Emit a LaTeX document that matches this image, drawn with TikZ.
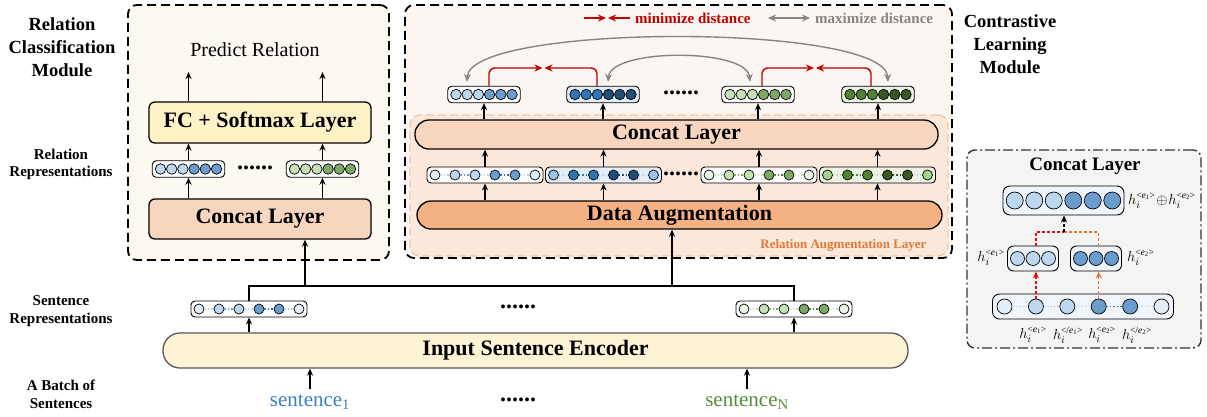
\documentclass[tikz,border=0pt]{standalone}
\usepackage{fontspec}
\setmainfont{Liberation Serif}
\usepackage{tikz}
\usetikzlibrary{calc, arrows.meta}

\definecolor{b0}{HTML}{E4EEF8}
\definecolor{b1}{HTML}{BDD7EE}
\definecolor{b2}{HTML}{9DC3E6}
\definecolor{b3}{HTML}{6A9CCE}
\definecolor{b4}{HTML}{2E75B6}
\definecolor{b5}{HTML}{1F4E79}
\definecolor{g0}{HTML}{EBF4E4}
\definecolor{g1}{HTML}{C5E0B4}
\definecolor{g2}{HTML}{A9D18E}
\definecolor{g3}{HTML}{7DA866}
\definecolor{g4}{HTML}{548235}
\definecolor{g5}{HTML}{385723}
\definecolor{clsfill}{HTML}{FDF9F1}
\definecolor{ctrfill}{HTML}{FBF6F2}
\definecolor{augfill}{HTML}{FBE8DB}
\definecolor{augline}{HTML}{F2C6A8}
\definecolor{augtext}{HTML}{E07B39}
\definecolor{fcfill}{HTML}{FFF2C6}
\definecolor{catfill}{HTML}{F8D5BF}
\definecolor{dafill}{HTML}{F4B183}
\definecolor{encfill}{HTML}{FFF3D5}
\definecolor{minred}{HTML}{C00000}
\definecolor{maxgray}{HTML}{858585}
\definecolor{sblue}{HTML}{3D7EC2}
\definecolor{sgreen}{HTML}{5A8A3A}
\definecolor{dred}{HTML}{E01010}
\definecolor{dorange}{HTML}{E0762C}
\definecolor{boxgray}{HTML}{F4F4F4}

% a row of units: [box options]{name}{centre}{spacing}{diameter}{colours}
\newcommand{\embed}[6][]{%
  \foreach \col [count=\n] in {#6} {\xdef\nunits{\n}}
  \node[vecbox, minimum width={(\nunits-1)*#4+#5+6}, minimum height={#5+6}, #1] (#2) at #3 {};
  \foreach \col [count=\i] in {#6}
    \node[unit, fill=\col, minimum size=#5] (#2-\i) at ($(#2.center)+({(\i-(\nunits+1)/2)*#4},0)$) {};
}
% dotted links inside a row of six units
\newcommand{\links}[4]{%
  \foreach \fst/\snd in {1/2,3/4,5/6} \draw[link, #2] (#1-\fst) -- (#1-\snd);
  \draw[link, #3] (#1-2) -- (#1-3);
  \draw[link, #4] (#1-4) -- (#1-5);
}
% hidden state with an entity tag
\newcommand{\htag}[2]{h_i^{\mbox{\fontsize{9.5}{10}\selectfont<#1\textit{e}\textsubscript{#2}>}}}

\begin{document}
\begin{tikzpicture}[x=1pt, y=-1pt,
    module/.style={draw=black, line width=1.8pt, dash pattern=on 9pt off 5pt, rounded corners=9pt},
    layer/.style={draw=black, line width=1.3pt, rounded corners=6pt, inner sep=2pt, font=\fontsize{22}{26}\selectfont\bfseries},
    pill/.style={layer, rounded corners=14pt},
    vecbox/.style={draw=black, line width=0.9pt, rounded corners=4pt, fill=white, inner sep=0pt},
    unit/.style={circle, draw=black, line width=0.7pt, inner sep=0pt},
    arr/.style={-{Stealth[length=7pt,width=6pt]}, line width=1.3pt},
    redarr/.style={-{Stealth[length=8pt,width=7pt]}, line width=1.4pt, draw=minred},
    grayarr/.style={line width=1.4pt, draw=maxgray},
    dasharr/.style={line width=1.4pt, dash pattern=on 3pt off 2pt},
    wire/.style={line width=1.3pt},
    link/.style={line width=1.4pt, dotted},
    lab/.style={font=\fontsize{15}{17.7}\selectfont\bfseries, align=center},
    biglab/.style={font=\fontsize{18.5}{23}\selectfont\bfseries, align=center},
    legend/.style={font=\fontsize{15}{17}\selectfont\bfseries, anchor=west, inner sep=0pt},
    dots/.style={font=\fontsize{24}{24}\selectfont\bfseries, inner sep=0pt},
    hlab/.style={font=\fontsize{15}{17}\selectfont, inner sep=0pt},
    sent/.style={font=\fontsize{21}{24}\selectfont, inner sep=2pt},
  ]
\useasboundingbox (0,0) rectangle (1207,416);

% side labels
\node[biglab] (rcmlab) at (62,47) {Relation\\Classification\\Module};
\node[lab] (rellab) at (61,164.5) {Relation\\Representations};
\node[lab] (sentlab) at (61,311) {Sentence\\Representations};
\node[lab] (batchlab) at (61,394) {A Batch of\\Sentences};
\node[biglab] (ctrlab) at (1010,44) {Contrastive\\Learning\\Module};

% relation classification module
\node[module, fill=clsfill, minimum width=261pt, minimum height=255pt] (clsbox) at (258.5,132.5) {};
\node[font=\fontsize{20}{24}\selectfont] (pred) at (255,50) {Predict Relation};
\node[layer, fill=fcfill, minimum width=222pt, minimum height=41pt] (fc) at (260,122.5) {FC + Softmax Layer};
\embed{rel1}{(188.5,169)}{11.2}{10.5}{b1,b1,b1,b3,b3,b3}
\embed{rel2}{(322.5,169)}{11.2}{10.5}{g1,g1,g1,g3,g3,g3}
\node[dots] (reldots) at (255,168) {......};
\node[layer, fill=catfill, minimum width=222pt, minimum height=40pt] (concatL) at (260,219) {Concat Layer};
\coordinate (out1) at (188.5,72);
\coordinate (out2) at (322.5,72);
\path[arr] (rel1.south |- concatL.north) edge (rel1.south)
           (rel2.south |- concatL.north) edge (rel2.south)
           (rel1.north) edge (rel1.north |- fc.south)
           (rel2.north) edge (rel2.north |- fc.south)
           (out1 |- fc.north) edge (out1)
           (out2 |- fc.north) edge (out2);

% contrastive learning module
\node[module, fill=ctrfill, minimum width=547pt, minimum height=253pt] (ctrbox) at (678.5,131.5) {};
\node[draw=augline, fill=augfill, line width=1.4pt, dash pattern=on 8pt off 4pt, rounded corners=10pt,
      minimum width=538pt, minimum height=141pt] (augbox) at (679,185.5) {};
\node[font=\fontsize{13}{15}\selectfont\bfseries, text=augtext, anchor=east] (auglab) at (930,245) {Relation Augmentation Layer};
\node[pill, fill=catfill, minimum width=523pt, minimum height=29pt] (concatM) at (676.5,134.5) {Concat Layer};
\node[pill, fill=dafill, minimum width=525pt, minimum height=28pt] (dataaug) at (679.5,215) {Data Augmentation};

\embed{aug1}{(485,175)}{20}{10}{b0,b1,b1,b3,b3,b0}
\embed[fill=b0]{aug2}{(603.5,175)}{20}{10}{b2,b4,b4,b5,b5,b2}
\embed{aug3}{(759,175)}{20}{10}{g0,g1,g1,g3,g3,g0}
\embed[fill=g0]{aug4}{(877.5,175)}{20}{10}{g2,g4,g4,g5,g5,g2}
\links{aug1}{b1}{b3}{b4}
\links{aug2}{b1}{b4}{b5}
\links{aug3}{g1}{g3}{g4}
\links{aug4}{g1}{g4}{g5}
\node[dots] (augdots) at (681,174) {......};

\embed{t1}{(484,94.5)}{11.2}{10.5}{b1,b1,b1,b3,b3,b3}
\embed[fill=b0]{t2}{(603,94.5)}{11.2}{10.5}{b4,b4,b4,b5,b5,b5}
\embed{t3}{(758,94.5)}{11.2}{10.5}{g1,g1,g1,g3,g3,g3}
\embed[fill=g0]{t4}{(878,94.5)}{11.2}{10.5}{g4,g4,g4,g5,g5,g5}
\node[dots] (topdots) at (681,93) {......};

\path[arr] (aug1.south |- dataaug.north) edge (aug1.south)
           (aug2.south |- dataaug.north) edge (aug2.south)
           (aug3.south |- dataaug.north) edge (aug3.south)
           (aug4.south |- dataaug.north) edge (aug4.south)
           (aug1.north) edge (aug1.north |- concatM.south)
           (aug2.north) edge (aug2.north |- concatM.south)
           (aug3.north) edge (aug3.north |- concatM.south)
           (aug4.north) edge (aug4.north |- concatM.south)
           (t1.south |- concatM.north) edge (t1.south)
           (t2.south |- concatM.north) edge (t2.south)
           (t3.south |- concatM.north) edge (t3.south)
           (t4.south |- concatM.north) edge (t4.south);

% pull together / push apart
\coordinate (meetA) at (543.5,68);
\coordinate (meetB) at (815,68);
\draw[redarr, rounded corners=6pt] ([xshift=5pt]t1.north) |- ([xshift=-1pt]meetA);
\draw[redarr, rounded corners=6pt] ([xshift=-6pt]t2.north) |- ([xshift=1pt]meetA);
\draw[redarr, rounded corners=6pt] ([xshift=4pt]t3.north) |- ([xshift=-1pt]meetB);
\draw[redarr, rounded corners=6pt] ([xshift=-7pt]t4.north) |- ([xshift=1pt]meetB);
\draw[grayarr, {Stealth[length=8pt,width=7pt]}-{Stealth[length=8pt,width=7pt]}]
  ([xshift=-17pt,yshift=4pt]t1.north) .. controls (470,23) and (885,23) .. ([xshift=10pt,yshift=4pt]t4.north);
\draw[grayarr, {Stealth[length=8pt,width=7pt]}-{Stealth[length=8pt,width=7pt]}]
  ([xshift=5pt,yshift=4pt]t2.north) .. controls (611,48) and (747,48) .. ([xshift=-8pt,yshift=4pt]t3.north);

% legend
\coordinate (lgm1) at (584,18);
\coordinate (lgm) at (607,18);
\coordinate (lgm2) at (630,18);
\coordinate (lgx1) at (768,18);
\coordinate (lgx2) at (810,18);
\draw[redarr] (lgm1) -- ([xshift=-1pt]lgm);
\draw[redarr] (lgm2) -- ([xshift=1pt]lgm);
\draw[grayarr, {Stealth[length=8pt,width=7pt]}-{Stealth[length=8pt,width=7pt]}] (lgx1) -- (lgx2);
\node[legend, text=minred] (mintext) at (635,18) {minimize distance};
\node[legend, text=maxgray] (maxtext) at (815,18) {maximize distance};

% concat layer detail
\node[draw=black!80, fill=boxgray, line width=1.4pt, dash pattern=on 10pt off 3pt on 2pt off 3pt, rounded corners=8pt,
      minimum width=234pt, minimum height=198pt] (catbox) at (1084,249) {};
\node[font=\fontsize{19}{22}\selectfont\bfseries] (cattitle) at (1085,166) {Concat Layer};
\embed[fill=b0!60, minimum width=121pt, minimum height=29pt, rounded corners=7pt]{ctop}{(1063.5,200.5)}{19.5}{17}{b1,b1,b1,b3,b3,b3}
\embed[fill=b0!60, minimum height=25pt, rounded corners=6pt]{cleft}{(1033,258.5)}{15.5}{14}{b1,b1,b1}
\embed[fill=b0!60, minimum height=25pt, rounded corners=6pt]{cright}{(1096,258.5)}{15.5}{14}{b3,b3,b3}
\embed[fill=b0!60, minimum width=181pt, minimum height=25pt, rounded corners=7pt]{cbot}{(1083,306.5)}{31.4}{15}{b0,b1,b1,b3,b3,b0}
\links{cbot}{b1}{b2}{b4}
\coordinate (jn) at (1064,232);
\draw[dasharr, dred] (cleft.north -| cbot-2) |- (jn);
\draw[dasharr, dorange] (cright.north -| cbot-4) |- (jn);
\path[dasharr, -{Stealth[length=7pt,width=6pt]}]
   (jn) edge (jn |- ctop.south)
   (cbot-2.north) edge[dred] (cbot-2.north |- cleft.south)
   (cbot-4.north) edge[dorange] (cbot-4.north |- cright.south);
\node[hlab, anchor=west] (hcat) at (1128,201) {$\htag{}{1}\!\oplus\!\htag{}{2}$};
\node[hlab, anchor=east] (hleft) at (1005,258) {$\htag{}{1}$};
\node[hlab, anchor=west] (hright) at (1127,258) {$\htag{}{2}$};
\node[hlab] (hb1) at (1033,335) {$\htag{}{1}$};
\node[hlab] (hb2) at (1068,335) {$\htag{/}{1}$};
\node[hlab] (hb3) at (1102,335) {$\htag{}{2}$};
\node[hlab] (hb4) at (1137,335) {$\htag{/}{2}$};

% sentence encoder
\node[pill, fill=encfill, draw=black!65, rounded corners=17pt, minimum width=745pt, minimum height=35pt] (enc) at (535.5,350.5) {Input Sentence Encoder};
\embed{sL}{(249,309)}{20}{10}{b0,b1,b1,b3,b3,b0}
\embed{sR}{(794,309)}{20}{10}{g0,g1,g1,g3,g3,g0}
\links{sL}{b1}{b3}{b4}
\links{sR}{g1}{g3}{g4}
\node[dots] (sentdots) at (518,307) {......};
\node[sent, text=sblue] (s1) at (310,402) {sentence\textsubscript{1}};
\node[sent, text=sgreen] (sN) at (747,402) {sentence\textsubscript{N}};
\node[dots] (batchdots) at (518,400) {......};
\coordinate (j1) at (305,286);
\coordinate (j2) at (672,286);
\draw[wire] (sL.north) |- (j1) -- (j2) -| (sR.north);
\path[arr] (j1) edge (j1 |- concatL.south)
           (j2) edge (j2 |- dataaug.south)
           (sL.south |- enc.north) edge (sL.south)
           (sR.south |- enc.north) edge (sR.south)
           ([yshift=3pt]s1.north) edge (s1.north |- enc.south)
           ([yshift=3pt]sN.north) edge (sN.north |- enc.south);
\end{tikzpicture}
\end{document}
